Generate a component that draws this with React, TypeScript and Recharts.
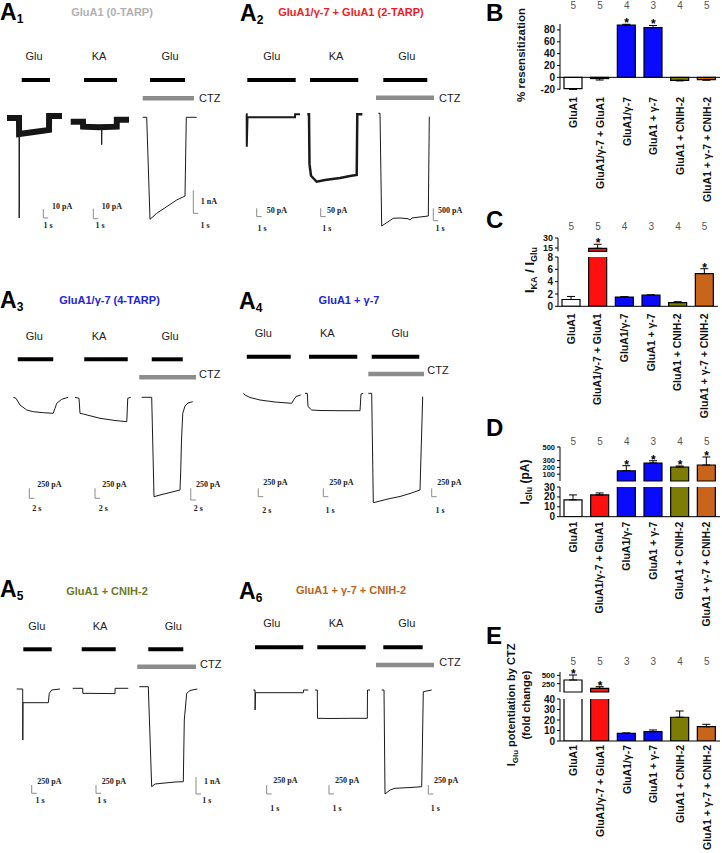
import React from "react";
import {Bar, Cell, ComposedChart, ErrorBar, Line, LineChart, ReferenceLine, XAxis, YAxis} from "recharts";

//  BAR CHART DATA (panels B - E)

const groups = ["GluA1", "GluA1/γ-7 + GluA1", "GluA1/γ-7", "GluA1 + γ-7", "GluA1 + CNIH-2", "GluA1 + γ-7 + CNIH-2"]
const groupColors = ["#ffffff", "#ff1010", "#0a0aff", "#0a0aff", "#7d7d05", "#c8651b"]

const resensMean = [-19, -2, 88, 84, -5, -4]
const resensSem = [1.5, 2.5, 1.5, 3.5, 1, 0.8]
const resensN = [5, 5, 4, 3, 4, 5]
const resensStar = [false, false, true, true, false, false]

const kaRatioMean = [1.1, 14.6, 1.5, 1.8, 0.6, 5.3]
const kaRatioSem = [0.5, 6, 0.05, 0.05, 0.15, 0.8]
const kaRatioN = [5, 5, 4, 3, 4, 5]
const kaRatioStar = [false, true, false, false, false, true]

const gluMean = [17, 22, 151, 265, 206, 235]
const gluSem = [5, 2, 74, 33, 14, 118]
const gluN = [5, 5, 4, 3, 4, 5]
const gluStar = [false, false, true, true, true, true]

const ctzMean = [360, 111, 7.3, 8.9, 22.6, 13.6]
const ctzSem = [150, 48, 0.4, 1.6, 6, 2.3]
const ctzN = [5, 5, 3, 3, 4, 5]
const ctzStar = [true, true, false, false, false, false]

//  TRACE DATA (panels A1 - A6), [time s, current pA]

const a1GluNoise = [[0.2, 0], [2.6, 0], [2.62, -17.8], [5.6, -15.5], [8.6, -13.3], [8.62, 2.2], [11.2, 2.2]]
const a1GluPeak = [[2.6, 0], [2.64, -111], [2.7, -17]]
const a1KaNoise = [[0.34, 0], [2.8, 0], [2.82, -5], [6, -5.5], [9.54, -5], [9.56, 2], [12, 2]]
const a1KaPeak = [[6.5, -5.5], [6.54, -23], [6.58, -5.5]]
const a1Ctz = [[0.54, 0], [1.34, 0], [2.0, -4437], [3.34, -4176], [5.34, -3889], [7.34, -3597], [9.0, -3423], [9.26, 0], [11.34, 0]]

const a2Glu = [[0.4, 0], [0.54, 0], [0.56, -195], [0.7, -18], [5, -18], [10.2, -18], [10.22, 0], [11.2, 0]]
const a2Ka = [[0.26, 0], [0.6, 0], [0.7, -300], [1.0, -370], [2.14, -406], [3.8, -395], [6.8, -383], [8.8, -371], [10.14, -365], [10.26, 0], [11.26, 0]]
const a2Ctz = [[0.86, 0], [1.2, 0], [1.54, -4581], [3.86, -4268], [5.2, -4256], [6.8, -4285], [7.2, -4337], [7.6, -4256], [9.2, -4215], [10.86, -4175], [11.06, -138]]

const a3Glu = [[0.52, 0], [1.6, -25], [3.2, -193], [5.9, -318], [8.5, -360], [12.5, -385], [16.5, -400], [17.2, -275], [17.9, -150], [19.9, -50], [22.5, 0]]
const a3Ka = [[0.8, 0], [2.4, -25], [2.8, -400], [4.1, -418], [10.8, -525], [16.8, -580], [21.5, -610], [21.9, -25], [23.1, 0]]
const a3Ctz = [[1.88, 0], [5.88, 0], [6.8, -2127], [9.2, -2091], [13.2, -2037], [17.2, -1984], [17.5, -1556], [17.8, -914], [18.3, -342], [19.2, -186], [20.4, -122], [22.3, -94]]

const a4Glu = [[0.52, 0], [1.2, -51], [3.2, -126], [7.2, -202], [13.2, -262], [19.9, -301], [20.4, -232], [21.6, -96], [23.5, -51]]
const a4Ka = [[0.2, 0], [0.66, 0], [0.8, -400], [1.54, -503], [3.2, -518], [7.2, -524], [11.2, -524], [11.4, -21], [11.86, 0]]
const a4Ctz = [[0.46, 0], [1.14, 0], [1.46, -3293], [2.8, -3242], [4.8, -3167], [6.8, -3106], [8.8, -3016], [10.8, -2911], [11.34, -102]]

const a5Glu = [[0.34, 0], [1.54, 0], [1.56, -1535], [1.6, -412], [6.66, -412], [6.86, -129], [7.34, -30], [9.0, 0]]
const a5Ka = [[0.34, 0], [2.34, 0], [2.36, -150], [8.8, -160], [8.82, 0], [11.46, 0]]
const a5Ctz = [[0.66, 0], [2.46, 0], [3.14, -5880], [3.8, -5721], [5.8, -5662], [7.8, -5604], [9.46, -5586], [9.66, -1958], [10.14, -388], [10.8, -223], [12.26, -135]]

const a6Glu = [[0.26, 0], [0.6, 0], [0.62, -556], [0.7, -75], [10.26, -75], [10.3, 0], [11.26, 0]]
const a6Ka = [[0.4, 0], [0.86, 0], [0.9, -787], [3.4, -792], [7.4, -787], [10.86, -787], [10.9, 0], [11.4, 0]]
const a6Ctz = [[1.54, 0], [2.0, 0], [2.2, -2891], [3.2, -2780], [4.2, -2733], [7.2, -2711], [9.54, -2688], [9.86, -47], [11.54, 0]]

// application windows [start, end] in s
const a1Windows = [[3.14, 8.8], [3.0, 9.6], [2.0, 9.0]]
const a2Windows = [[0.66, 10.34], [0.8, 10.46], [1.86, 10.66]]
const a3Windows = [[2.3, 16.5], [4.5, 21.9], [5.9, 18.3]]
const a4Windows = [[1.9, 19.5], [1.0, 10.66], [1.14, 10.66]]
const a5Windows = [[1.66, 7.34], [2.14, 8.94], [2.46, 9.46]]
const a6Windows = [[0.6, 10.26], [0.86, 10.54], [1.86, 9.74]]
const ctzWindows = [[0.54, 10.8], [0.4, 12.0], [0.9, 23.6], [0.46, 11.6], [0.26, 12.0], [0.4, 12.0]]

const sweepNames = ["Glu", "KA", "Glu"]

//  LAYOUT

const panels = [
  {
    sub: "1", lx: 0, ly: 1, title: "GluA1  (0-TARP)", color: "#b0b0b0", tx: 112, ty: 12,
    rowTop: 70, rowBottom: 236, drugY: 80, ctzY: 98.3, nameY: 56, nameX: [34, 99, 170], ctzText: [199, 98.3],
    sweeps: [
      {noise: a1GluNoise, trace: a1GluPeak, left: 6, width: 62, base: 118, pApx: 1.111, spx: 0.2, scaleAt: [7.46, -111], scaleI: 10, scaleT: 1, iText: [52, 207, "10 pA"], tText: [48, 226, "1 s"]},
      {noise: a1KaNoise, trace: a1KaPeak, left: 69, width: 62, base: 121.7, pApx: 1.0, spx: 0.2, scaleAt: [4.86, -97], scaleI: 10, scaleT: 1, iText: [101.7, 207, "10 pA"], tText: [100, 226, "1 s"]},
      {trace: a1Ctz, left: 140, width: 66, base: 117.3, pApx: 43.5, spx: 0.2, scaleAt: [10.66, -4176], scaleI: 1000, scaleT: 1, iText: [200.7, 202, "1 nA"], tText: [205, 226, "1 s"]},
    ],
    windows: a1Windows, ctz: ctzWindows[0],
  },
  {
    sub: "2", lx: 240, ly: 2, title: "GluA1/γ-7 + GluA1 (2-TARP)", color: "#ee1c25", tx: 351, ty: 12,
    rowTop: 70, rowBottom: 236, drugY: 80, ctzY: 97.7, nameY: 56, nameX: [271.7, 336, 406.7], ctzText: [439, 97.7],
    sweeps: [
      {trace: a2Glu, traceW: 2, left: 244, width: 58, base: 114.3, pApx: 6.02, spx: 0.2, scaleAt: [2.54, -616], scaleI: 50, scaleT: 1, iText: [266.7, 210.7, "50 pA"], tText: [262, 229.3, "1 s"]},
      {trace: a2Ka, traceW: 2.5, left: 306, width: 58, base: 114.3, pApx: 6.02, spx: 0.2, scaleAt: [2.94, -616], scaleI: 50, scaleT: 1, iText: [327, 210.7, "50 pA"], tText: [326.7, 229.3, "1 s"]},
      {trace: a2Ctz, left: 374, width: 66, base: 113.3, pApx: 40.65, spx: 0.2, scaleAt: [11.86, -4366], scaleI: 500, scaleT: 1, iText: [438, 210.7, "500 pA"], tText: [440, 229.3, "1 s"]},
    ],
    windows: a2Windows, ctz: ctzWindows[1],
  },
  {
    sub: "3", lx: 0, ly: 289, title: "GluA1/γ-7 (4-TARP)", color: "#2424d8", tx: 109.5, ty: 300,
    rowTop: 348, rowBottom: 520, drugY: 359.3, ctzY: 377.3, nameY: 336, nameX: [34.3, 99, 170], ctzText: [199, 374],
    sweeps: [
      {trace: a3Glu, left: 12, width: 58, base: 397.3, pApx: 25, spx: 0.4, scaleAt: [6.92, -2525], scaleI: 250, scaleT: 2, iText: [37.3, 485, "250 pA"], tText: [36.7, 509.3, "2 s"]},
      {trace: a3Ka, left: 73, width: 62, base: 397.3, pApx: 25, spx: 0.4, scaleAt: [8.8, -2525], scaleI: 250, scaleT: 2, iText: [102.3, 485, "250 pA"], tText: [103.3, 509.3, "2 s"]},
      {trace: a3Ctz, left: 137, width: 62, base: 397.3, pApx: 21.4, spx: 0.4, scaleAt: [21.5, -2198], scaleI: 250, scaleT: 2, iText: [196, 485, "250 pA"], tText: [198.3, 509.3, "2 s"]},
    ],
    windows: a3Windows, ctz: ctzWindows[2],
  },
  {
    sub: "4", lx: 239, ly: 290, title: "GluA1 + γ-7", color: "#2424d8", tx: 349, ty: 300,
    rowTop: 348, rowBottom: 520, drugY: 356.7, ctzY: 374, nameY: 332.7, nameX: [263.3, 327.3, 400], ctzText: [427.3, 370],
    sweeps: [
      {trace: a4Glu, left: 242, width: 60, base: 393.3, pApx: 30.1, spx: 0.4, scaleAt: [6.5, -3112], scaleI: 250, scaleT: 2, iText: [263.3, 483.3, "250 pA"], tText: [266.7, 510.7, "2 s"]},
      {trace: a4Ka, left: 304, width: 62, base: 393.3, pApx: 30.1, spx: 0.2, scaleAt: [3.86, -3112], scaleI: 250, scaleT: 1, iText: [329.3, 483.3, "250 pA"], tText: [330, 510.7, "1 s"]},
      {trace: a4Ctz, left: 366, width: 72, base: 393.3, pApx: 30.1, spx: 0.2, scaleAt: [13.14, -3112], scaleI: 250, scaleT: 1, iText: [437.3, 483.3, "250 pA"], tText: [440, 510.7, "1 s"]},
    ],
    windows: a4Windows, ctz: ctzWindows[3],
  },
  {
    sub: "5", lx: 0, ly: 578, title: "GluA1 + CNIH-2", color: "#6b7a2a", tx: 107, ty: 590.7,
    rowTop: 638, rowBottom: 816, drugY: 649.3, ctzY: 666.7, nameY: 626, nameX: [36.7, 100, 173.3], ctzText: [200, 664],
    sweeps: [
      {trace: a5Glu, left: 15, width: 48, base: 689, pApx: 30.1, spx: 0.2, scaleAt: [3.34, -3139], scaleI: 250, scaleT: 1, iText: [37.3, 782.3, "250 pA"], tText: [40, 801, "1 s"]},
      {trace: a5Ka, left: 71, width: 60, base: 688.3, pApx: 30.1, spx: 0.2, scaleAt: [5.0, -3160], scaleI: 250, scaleT: 1, iText: [101.7, 782.3, "250 pA"], tText: [101.7, 801, "1 s"]},
      {trace: a5Ctz, left: 136, width: 68, base: 686.7, pApx: 58.8, spx: 0.2, scaleAt: [12.0, -6309], scaleI: 1000, scaleT: 1, iText: [204, 782.3, "1 nA"], tText: [206.7, 801, "1 s"]},
    ],
    windows: a5Windows, ctz: ctzWindows[4],
  },
  {
    sub: "6", lx: 239, ly: 580, title: "GluA1 + γ-7 + CNIH-2", color: "#b5651d", tx: 351, ty: 590,
    rowTop: 638, rowBottom: 816, drugY: 647.3, ctzY: 665, nameY: 623.3, nameX: [271.7, 336, 406.7], ctzText: [439.3, 661.7],
    sweeps: [
      {trace: a6Glu, left: 252, width: 60, base: 690, pApx: 27.8, spx: 0.2, scaleAt: [2.94, -2891], scaleI: 250, scaleT: 1, iText: [273.3, 781, "250 pA"], tText: [274.7, 809.3, "1 s"]},
      {trace: a6Ka, left: 313, width: 60, base: 690, pApx: 27.8, spx: 0.2, scaleAt: [3.2, -2891], scaleI: 250, scaleT: 1, iText: [335, 781, "250 pA"], tText: [337, 809.3, "1 s"]},
      {trace: a6Ctz, left: 374, width: 62, base: 690, pApx: 27.8, spx: 0.2, scaleAt: [10.86, -2891], scaleI: 250, scaleT: 1, iText: [434, 781, "250 pA"], tText: [435.3, 809.3, "1 s"]},
    ],
    windows: a6Windows, ctz: ctzWindows[5],
  },
]

//  HELPERS

function Txt({x, y, align = "center", style, children}: any) {
  const tx = align === "center" ? "-50%" : align === "right" ? "-100%" : "0"
  return (
    <div style={{position: "absolute", left: x, top: y, transform: `translate(${tx}, -50%)`, whiteSpace: "nowrap", lineHeight: 1, ...style}}>
      {children}
    </div>
  )
}

function VLabel({x, y, size = 11, children}: any) {
  return (
    <div style={{
      position: "absolute", left: x, top: y, transform: "translate(-50%, -50%) rotate(-90deg)",
      whiteSpace: "nowrap", textAlign: "center", fontWeight: 700, fontSize: size, lineHeight: 1.15, color: "#111"
    }}>
      {children}
    </div>
  )
}

const toRows = (pts: number[][]) => pts.map(([t, v]) => ({t, v}))

function SweepChart({s, p, idx}: any) {
  const height = p.rowBottom - p.rowTop
  const yMax = (s.base - p.rowTop) * s.pApx
  const yMin = -(p.rowBottom - s.base) * s.pApx
  const xMax = s.width * s.spx
  const drugLevel = (s.base - p.drugY) * s.pApx
  const ctzLevel = (s.base - p.ctzY) * s.pApx
  const [w0, w1] = p.windows[idx]
  const [st, sy] = s.scaleAt

  return (
    <LineChart width={s.width} height={height} margin={{top: 0, right: 0, bottom: 0, left: 0}}
               style={{position: "absolute", left: s.left, top: p.rowTop}}>
      <XAxis type="number" dataKey="t" domain={[0, xMax]} hide allowDataOverflow/>
      <YAxis type="number" domain={[yMin, yMax]} hide allowDataOverflow/>
      <ReferenceLine segment={[{x: w0, y: drugLevel}, {x: w1, y: drugLevel}]} stroke="#000" strokeWidth={4} ifOverflow="visible"/>
      {idx === 2 && (
        <ReferenceLine segment={[{x: p.ctz[0], y: ctzLevel}, {x: p.ctz[1], y: ctzLevel}]} stroke="#8c8c8c" strokeWidth={4.5} ifOverflow="visible"/>
      )}
      <ReferenceLine segment={[{x: st, y: sy}, {x: st, y: sy + s.scaleI}]} stroke="#8a8a8a" strokeWidth={1} ifOverflow="visible"/>
      <ReferenceLine segment={[{x: st, y: sy}, {x: st + s.scaleT, y: sy}]} stroke="#8a8a8a" strokeWidth={1} ifOverflow="visible"/>
      {s.noise && (
        <Line data={toRows(s.noise)} dataKey="v" type="linear" stroke="#161616" strokeWidth={6} dot={false} activeDot={false} isAnimationActive={false}/>
      )}
      <Line data={toRows(s.trace)} dataKey="v" type="linear" stroke="#1a1a1a" strokeWidth={s.traceW ?? 1} dot={false} activeDot={false} isAnimationActive={false}/>
    </LineChart>
  )
}

function TracePanel({p}: any) {
  const scaleStyle = {fontFamily: '"Liberation Serif", serif', fontWeight: 700, fontSize: 8, color: "#222"}
  return (
    <>
      <div style={{position: "absolute", left: p.lx, top: p.ly, fontSize: 23, fontWeight: 700, lineHeight: 1, color: "#000"}}>
        A<span style={{fontSize: 12, position: "relative", top: 3}}>{p.sub}</span>
      </div>
      <Txt x={p.tx} y={p.ty} style={{color: p.color, fontWeight: 700, fontSize: 11}}>{p.title}</Txt>
      {sweepNames.map((n, i) => (
        <Txt key={i} x={p.nameX[i]} y={p.nameY} style={{fontSize: 11, color: "#222"}}>{n}</Txt>
      ))}
      <Txt x={p.ctzText[0]} y={p.ctzText[1]} align="left" style={{fontSize: 11, color: "#222"}}>CTZ</Txt>
      {p.sweeps.map((s: any, i: number) => (
        <React.Fragment key={i}>
          <SweepChart s={s} p={p} idx={i}/>
          <Txt x={s.iText[0]} y={s.iText[1]} align="left" style={scaleStyle}>{s.iText[2]}</Txt>
          <Txt x={s.tText[0]} y={s.tText[1]} style={scaleStyle}>{s.tText[2]}</Txt>
        </React.Fragment>
      ))}
    </>
  )
}

function segmentRows(mean: number[], sem: number[], star: boolean[], part: string, cut: number) {
  return groups.map((name, i) => {
    const v = mean[i], e = sem[i]
    const here = part === "upper" ? v > cut : part === "lower" ? v <= cut : true
    return {
      name,
      value: part === "upper" && !here ? null : v,
      err: here ? (v < 0 ? [e, 0] : [0, e]) : null,
      star: here && star[i] ? v + e : null,
    }
  })
}

function starDot(props: any) {
  const {cx, cy, value, index} = props
  if (value == null || cy == null || isNaN(cy)) return <g key={`s${index}`}/>
  return <text key={`s${index}`} x={cx} y={cy + 3} textAnchor="middle" fontSize={12} fontWeight={700} fill="#000">*</text>
}

function BarSegment({rows, plotLeft = 560, plotRight = 720, plotTop, plotBottom, domain, ticks, nLabels, nOff = 10, catGap,
                      zeroLine = false, clip = false, tickSize = 10}: any) {
  const chartTop = plotTop - 24
  const hasCats = catGap != null
  const bottomSpace = hasCats ? 130 : 6
  const axisH = hasCats ? 126 : 0
  const height = plotBottom - chartTop + bottomSpace
  const localBottom = plotBottom - chartTop

  return (
    <ComposedChart width={232} height={height} data={rows}
                   margin={{top: nLabels ? 4 : 24, right: 722 - plotRight, bottom: bottomSpace - axisH, left: plotLeft - 490 - 40}}
                   style={{position: "absolute", left: 490, top: chartTop}}>
      <XAxis dataKey="name" hide={!hasCats} height={axisH} interval={0} axisLine={!zeroLine} tickLine={false}
             tickSize={0} tickMargin={0} stroke="#000"
             tick={(t: any) => (
               <text key={t.index} x={t.x} y={localBottom + catGap} transform={`rotate(-90 ${t.x} ${localBottom + catGap})`}
                     textAnchor="end" dominantBaseline="central" fontSize={10.5} fontWeight={700} fill="#111">
                 {t.payload.value}
               </text>
             )}/>
      {nLabels && (
        <XAxis xAxisId="n" dataKey="name" orientation="top" height={20} interval={0} axisLine={false} tickLine={false}
               tickSize={0} tickMargin={0}
               tick={(t: any) => (
                 <text key={t.index} x={t.x} y={24 - nOff} textAnchor="middle" dominantBaseline="central" fontSize={10} fill="#555">
                   {nLabels[t.index]}
                 </text>
               )}/>
      )}
      <YAxis width={40} domain={domain} ticks={ticks} interval={0} allowDataOverflow={clip} tickSize={3} stroke="#000"
             tick={{fontSize: tickSize, fontWeight: 700, fill: "#111"}}/>
      {zeroLine && <ReferenceLine y={0} stroke="#000" strokeWidth={1}/>}
      <Bar dataKey="value" barSize={18} stroke="#000" strokeWidth={1.2} isAnimationActive={false}>
        {rows.map((r: any, i: number) => <Cell key={i} fill={groupColors[i]}/>)}
        <ErrorBar dataKey="err" width={4} stroke="#000" strokeWidth={1} direction="y"/>
      </Bar>
      <Line dataKey="star" stroke="none" dot={starDot} activeDot={false} legendType="none" isAnimationActive={false}/>
    </ComposedChart>
  )
}

//  RENDER

export default function App() {
  const letter = {position: "absolute" as const, fontSize: 24, fontWeight: 700, lineHeight: 1, color: "#000"}

  return (
    <div style={{
      position: "absolute", left: 0, top: 0, width: 722, height: 853, overflow: "hidden", background: "#fff",
      fontFamily: '"Liberation Sans", Arial, sans-serif', color: "#111"
    }}>
      {panels.map(p => <TracePanel key={p.sub} p={p}/>)}

      {/* B */}
      <BarSegment rows={segmentRows(resensMean, resensSem, resensStar, "all", 0)} plotTop={24} plotBottom={89.5}
                  domain={[-20, 90]} ticks={[-20, 0, 20, 40, 60, 80]} nLabels={resensN} nOff={19} catGap={7.5} zeroLine/>

      {/* C */}
      <BarSegment rows={segmentRows(kaRatioMean, kaRatioSem, kaRatioStar, "upper", 8)} plotLeft={558} plotRight={718}
                  plotTop={238} plotBottom={251.4} domain={[10, 30]} ticks={[15, 30]} nLabels={kaRatioN} nOff={11.3} tickSize={9}/>
      <BarSegment rows={segmentRows(kaRatioMean, kaRatioSem, kaRatioStar, "lower", 8)} plotLeft={558} plotRight={718}
                  plotTop={256.7} plotBottom={306} domain={[0, 8]} ticks={[0, 2, 4, 6, 8]} catGap={7} clip/>

      {/* D */}
      <BarSegment rows={segmentRows(gluMean, gluSem, gluStar, "upper", 30)} plotTop={447} plotBottom={481}
                  domain={[0, 500]} ticks={[100, 200, 300, 500]} nLabels={gluN} nOff={5.3} tickSize={7.5}/>
      <BarSegment rows={segmentRows(gluMean, gluSem, gluStar, "lower", 30)} plotTop={487.3} plotBottom={517}
                  domain={[0, 30]} ticks={[0, 10, 20, 30]} catGap={5} clip/>

      {/* E */}
      <BarSegment rows={segmentRows(ctzMean, ctzSem, ctzStar, "upper", 40)} plotTop={672} plotBottom={692}
                  domain={[0, 600]} ticks={[250, 500]} nLabels={ctzN} nOff={10.3} tickSize={8}/>
      <BarSegment rows={segmentRows(ctzMean, ctzSem, ctzStar, "lower", 40)} plotTop={699} plotBottom={741}
                  domain={[0, 40]} ticks={[0, 10, 20, 30, 40]} catGap={4} clip/>

      <div style={{...letter, left: 486, top: 1}}>B</div>
      <div style={{...letter, left: 486, top: 208}}>C</div>
      <div style={{...letter, left: 486, top: 416}}>D</div>
      <div style={{...letter, left: 486, top: 624}}>E</div>

      <VLabel x={522} y={55} size={11.5}>% resensitization</VLabel>
      <VLabel x={531} y={270} size={13}>I<sub style={{fontSize: 9}}>KA</sub> / I<sub style={{fontSize: 9}}>Glu</sub></VLabel>
      <VLabel x={527} y={482} size={12}>I<sub style={{fontSize: 8.5}}>Glu</sub> (pA)</VLabel>
      <VLabel x={519} y={705} size={11}>
        <div>I<sub style={{fontSize: 8}}>Glu</sub> potentiation by CTZ</div>
        <div>(fold change)</div>
      </VLabel>
    </div>
  )
}
